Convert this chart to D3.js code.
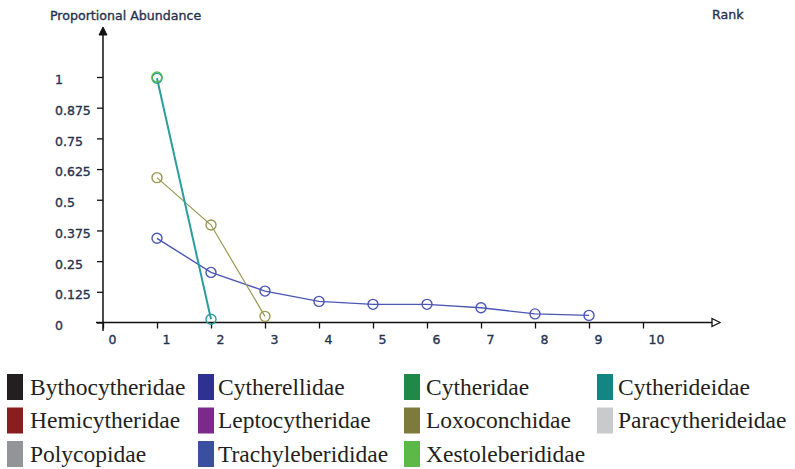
<!DOCTYPE html>
<html><head><meta charset="utf-8">
<script src="https://cdn.jsdelivr.net/npm/d3@7"></script>
<style>body{margin:0;background:#fff}svg{display:block}</style>
</head><body>
<svg id="c" width="795" height="469"></svg>
<script>
const yTicks = [0, 0.125, 0.25, 0.375, 0.5, 0.625, 0.75, 0.875, 1];
const yTickLabels = ["0", "0.125", "0.25", "0.375", "0.5", "0.625", "0.75", "0.875", "1"];
const xTicks = [0, 1, 2, 3, 4, 5, 6, 7, 8, 9, 10];
const yTitle = "Proportional Abundance";
const xTitle = "Rank";

const trachyValues = [0.343, 0.204, 0.128, 0.086, 0.074, 0.074, 0.060, 0.035, 0.029];
const loxoValues = [0.59, 0.397, 0.025];
const cytherideidaeValues = [0.995, 0.013];
const xestoValues = [1.0];

const plotted = [
  {name: "Trachyleberididae", values: trachyValues, color: "#4b57b5", width: 1.4},
  {name: "Loxoconchidae", values: loxoValues, color: "#9a9852", width: 1.2},
  {name: "Cytherideidae", values: cytherideidaeValues, color: "#2a9e9c", width: 2},
  {name: "Xestoleberididae", values: xestoValues, color: "#57bb4c", width: 1.4}
];

const legendNames = ["Bythocytheridae","Cytherellidae","Cytheridae","Cytherideidae",
  "Hemicytheridae","Leptocytheridae","Loxoconchidae","Paracytherideidae",
  "Polycopidae","Trachyleberididae","Xestoleberididae"];
const legendColors = ["#231f20","#2e3192","#1f8a47","#138583",
  "#8b1d1f","#7b2a8c","#7e7a3b","#c9cacc",
  "#929497","#3a4fa0","#5cb947"];

const svg = d3.select("#c");
const x = d3.scaleLinear().domain([0, 10]).range([103, 643]);
const y = d3.scaleLinear().domain([0, 1]).range([322.5, 77]);
const txt = "#26334f";
const fnt = "DejaVu Sans, Verdana, sans-serif";

function styleText(sel) {
  sel.attr("fill", txt).attr("stroke", txt).attr("stroke-width", 0.35)
    .style("font-family", fnt).style("font-size", "12.5px");
}

// axes
const yAxis = svg.append("g").attr("transform", `translate(${x(0)},0)`)
  .call(d3.axisLeft(y).tickValues(yTicks).tickSize(6).tickFormat((d,i)=>yTickLabels[i]));
yAxis.select(".domain").remove();
yAxis.selectAll(".tick line").attr("stroke", "#111").attr("stroke-width", 1.3);
yAxis.selectAll(".tick text").attr("x", -48).attr("dy", "0.55em").attr("text-anchor", "start").call(styleText);

const xAxis = svg.append("g").attr("transform", `translate(0,${y(0)})`)
  .call(d3.axisBottom(x).tickValues(xTicks).tickSize(6));
xAxis.select(".domain").remove();
xAxis.selectAll(".tick line").attr("stroke", "#111").attr("stroke-width", 1.3);
xAxis.selectAll(".tick text").attr("x", 5).attr("y", 13).attr("dy", "0.71em").attr("text-anchor", "start").call(styleText);

// axis lines with arrows
svg.append("line").attr("x1", x(0)).attr("x2", x(0)).attr("y1", 32).attr("y2", 331)
  .attr("stroke", "#111").attr("stroke-width", 1.5);
svg.append("line").attr("x1", 96).attr("x2", 716).attr("y1", y(0)).attr("y2", y(0))
  .attr("stroke", "#111").attr("stroke-width", 1.5);
svg.append("path").attr("d", `M${x(0)},27 L${x(0)-4},35 L${x(0)+4},35 Z`)
  .attr("fill", "#111").attr("stroke", "#111").attr("stroke-width", 1);
svg.append("path").attr("d", `M720,${y(0)} L712,${y(0)-4} L712,${y(0)+4} Z`)
  .attr("fill", "#fff").attr("stroke", "#111").attr("stroke-width", 1.3);

// titles
svg.append("text").attr("x", 50).attr("y", 20).text(yTitle).call(styleText).style("font-size", "12.6px");
svg.append("text").attr("x", 712).attr("y", 19).text(xTitle).call(styleText).style("font-size", "12.6px");

// series
const line = d3.line().x((d,i)=>x(i+1)).y(d=>y(d));
plotted.forEach(s => {
  const g = svg.append("g");
  g.append("path").datum(s.values).attr("d", line).attr("fill", "none")
    .attr("stroke", s.color).attr("stroke-width", s.width);
  g.selectAll("circle").data(s.values).join("circle")
    .attr("cx", (d,i)=>x(i+1)).attr("cy", d=>y(d)).attr("r", 5)
    .attr("fill", "none").attr("stroke", s.color).attr("stroke-width", 1.4);
});

// legend
const colX = [[7, 30], [198, 218], [404, 426], [597, 618]];
const lg = svg.append("g");
legendNames.forEach((n, i) => {
  const c = i % 4, r = Math.floor(i / 4);
  const top = 374 + r * 33.5;
  lg.append("rect").attr("x", colX[c][0]).attr("y", top).attr("width", 16).attr("height", 26)
    .attr("fill", legendColors[i]);
  lg.append("text").attr("x", colX[c][1]).attr("y", top + 20.5).text(n)
    .attr("fill", "#231f20").style("font-family", "Liberation Serif, Times New Roman, serif")
    .style("font-size", "23.5px");
});
</script>
</body></html>
